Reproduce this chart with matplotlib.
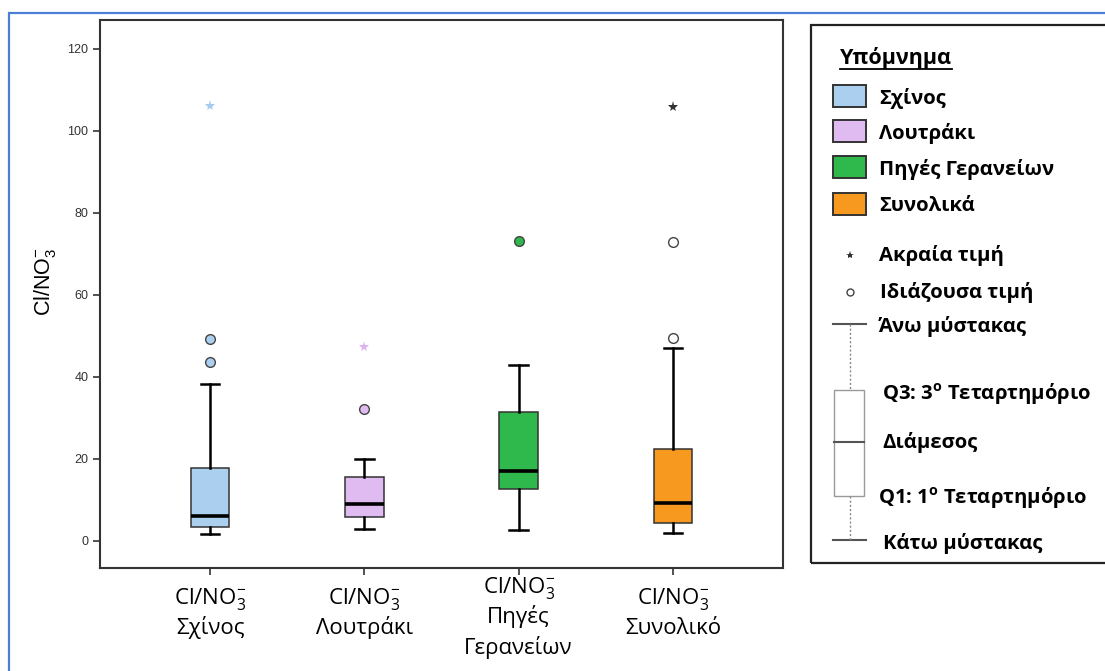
import matplotlib
matplotlib.use("Agg")
import matplotlib.pyplot as plt
from matplotlib.patches import Rectangle
from matplotlib.lines import Line2D
from matplotlib.transforms import blended_transform_factory

W, H = 1105, 671

# --- data -------------------------------------------------------------
groups = ["Σχίνος", "Λουτράκι", "Πηγές\nΓερανείων", "Συνολικό"]
legend_names = ["Σχίνος", "Λουτράκι", "Πηγές Γερανείων", "Συνολικά"]
q1 = [3.4, 5.9, 12.7, 4.4]
median = [6.1, 9.0, 17.1, 9.3]
q3 = [17.8, 15.6, 31.5, 22.4]
whisker_low = [1.7, 2.9, 2.7, 1.9]
whisker_high = [38.3, 20.0, 42.9, 47.1]
outliers = [[43.7, 49.3], [32.2], [73.2], [49.5, 72.9]]
extremes = [[106.1], [47.3], [], [105.9]]
y_ticks = [0, 20, 40, 60, 80, 100, 120]

box_colors = ["#abd0ef", "#dfbbf2", "#2fb84c", "#f7991f"]
outlier_faces = ["#abd0ef", "#dfbbf2", "#2fb84c", "#ffffff"]
extreme_colors = ["#a6cbee", "#dcb4f2", "#2fb84c", "#333333"]

SUB = r"$_{\mathregular{3}}^{\mathregular{-}}$"
FONT_TXT = "Open Sans"
LEG_FS = 14.6


def fx(x):
    return x / W


def fy(y):
    return 1 - y / H


fig = plt.figure(figsize=(W / 100, H / 100), dpi=100)
fig.patch.set_facecolor("white")

# outer frame
fig.add_artist(Rectangle((fx(8.5), fy(700)), fx(1200), fy(12.5) - fy(700),
                         transform=fig.transFigure, fill=False,
                         edgecolor="#4a7fd6", lw=1.6))

ax = fig.add_axes([fx(100), fy(568), fx(683), fy(20) - fy(568)])
positions = list(range(1, len(groups) + 1))

stats = []
for i in range(len(groups)):
    stats.append(dict(med=median[i], q1=q1[i], q3=q3[i],
                      whislo=whisker_low[i], whishi=whisker_high[i], fliers=[]))

bp = ax.bxp(stats, positions=positions, widths=0.25, patch_artist=True,
            showfliers=False,
            boxprops=dict(edgecolor="#333333", linewidth=1.1),
            medianprops=dict(color="black", linewidth=2.6),
            whiskerprops=dict(color="black", linewidth=1.8),
            capprops=dict(color="black", linewidth=1.8),
            capwidths=0.12)
for patch, c in zip(bp["boxes"], box_colors):
    patch.set_facecolor(c)

for i, pos in enumerate(positions):
    if outliers[i]:
        ax.plot([pos] * len(outliers[i]), outliers[i], "o", ms=7,
                mfc=outlier_faces[i], mec="#444444", mew=1.0, zorder=4)
    if extremes[i]:
        ax.plot([pos] * len(extremes[i]), extremes[i], "*", ms=8,
                color=extreme_colors[i], mew=0, zorder=4)

ax.set_xlim(0.286, 4.714)
ax.set_ylim(-6.6, 127)
ax.set_yticks(y_ticks)
ax.set_yticklabels([str(v) for v in y_ticks], fontfamily="Liberation Sans",
                   fontsize=9, color="#333333")
ax.set_xticks(positions)
ax.set_xticklabels([])
ax.tick_params(axis="both", direction="out", length=5, width=1.2, color="#333333")
for s in ax.spines.values():
    s.set_color("#333333")
    s.set_linewidth(1.5)

# category labels under the axis
tr = blended_transform_factory(ax.transData, fig.transFigure)
for pos, name in zip(positions, groups):
    lines = ["Cl/NO" + SUB] + name.split("\n")
    if len(lines) == 2:
        ys = [604, 634]
    else:
        ys = [593, 623, 654]
    for ln, yy in zip(lines, ys):
        ax.text(pos, fy(yy), ln, transform=tr, ha="center", va="baseline",
                fontfamily=FONT_TXT, fontsize=16, color="black")

fig.text(fx(45), fy(282), "Cl/NO" + SUB, rotation=90, ha="center", va="center",
         fontfamily="Liberation Sans", fontsize=15.5, color="black")

# --- legend panel -----------------------------------------------------
fig.add_artist(Rectangle((fx(811), fy(563)), fx(400), fy(25) - fy(563),
                         transform=fig.transFigure, fill=False,
                         edgecolor="#222222", lw=1.6, zorder=1))

title = fig.text(fx(840), fy(64), "Υπόμνημα", ha="left", va="baseline",
                 fontfamily=FONT_TXT, fontweight="bold", fontsize=15.5)
fig.canvas.draw()
bb = title.get_window_extent(fig.canvas.get_renderer())
fig.add_artist(Line2D([bb.x0 / W, bb.x1 / W], [fy(69), fy(69)],
                      transform=fig.transFigure, color="black", lw=1.3))

sw_y = [96, 131, 167, 204]
for y, c, name in zip(sw_y, box_colors, legend_names):
    fig.add_artist(Rectangle((fx(833), fy(y + 11)), fx(33), fy(y - 11) - fy(y + 11),
                             transform=fig.transFigure, facecolor=c,
                             edgecolor="#333333", lw=1.4))
    fig.text(fx(879), fy(y), name, ha="left", va="center_baseline",
             fontfamily=FONT_TXT, fontweight="bold", fontsize=LEG_FS)

fig.add_artist(Line2D([fx(850)], [fy(255)], marker="*", ms=6, color="#333333",
                      mew=0, transform=fig.transFigure))
fig.text(fx(879), fy(253), "Ακραία τιμή", ha="left", va="center_baseline",
         fontfamily=FONT_TXT, fontweight="bold", fontsize=LEG_FS)
fig.add_artist(Line2D([fx(850)], [fy(292)], marker="o", ms=5, mfc="white",
                      mec="#444444", mew=1.0, transform=fig.transFigure))
fig.text(fx(880), fy(290), "Ιδιάζουσα τιμή", ha="left", va="center_baseline",
         fontfamily=FONT_TXT, fontweight="bold", fontsize=LEG_FS)

# schematic box plot
g = "#555555"
fig.add_artist(Line2D([fx(833), fx(866)], [fy(324), fy(324)], color=g, lw=1.5,
                      transform=fig.transFigure))
fig.add_artist(Line2D([fx(833), fx(866)], [fy(540), fy(540)], color=g, lw=1.5,
                      transform=fig.transFigure))
fig.add_artist(Line2D([fx(850), fx(850)], [fy(324), fy(390)], color="#888888",
                      lw=1.0, ls=(0, (1.5, 1.5)), transform=fig.transFigure))
fig.add_artist(Line2D([fx(850), fx(850)], [fy(496), fy(540)], color="#888888",
                      lw=1.0, ls=(0, (1.5, 1.5)), transform=fig.transFigure))
fig.add_artist(Rectangle((fx(834), fy(496)), fx(30), fy(390) - fy(496),
                         transform=fig.transFigure, facecolor="white",
                         edgecolor="#999999", lw=1.0))
fig.add_artist(Line2D([fx(834), fx(864)], [fy(442), fy(442)], color=g, lw=1.5,
                      transform=fig.transFigure))

fig.text(fx(879), fy(324), "Άνω μύστακας", ha="left", va="center_baseline",
         fontfamily=FONT_TXT, fontweight="bold", fontsize=LEG_FS)
fig.text(fx(882), fy(390), r"Q3: 3$^{\mathregular{o}}$ Τεταρτημόριο", ha="left",
         va="center_baseline", fontfamily=FONT_TXT, fontweight="bold", fontsize=LEG_FS)
fig.text(fx(882), fy(440), "Διάμεσος", ha="left", va="center_baseline",
         fontfamily=FONT_TXT, fontweight="bold", fontsize=LEG_FS)
fig.text(fx(878), fy(494), r"Q1: 1$^{\mathregular{o}}$ Τεταρτημόριο", ha="left",
         va="center_baseline", fontfamily=FONT_TXT, fontweight="bold", fontsize=LEG_FS)
fig.text(fx(883), fy(541), "Κάτω μύστακας", ha="left", va="center_baseline",
         fontfamily=FONT_TXT, fontweight="bold", fontsize=LEG_FS)

fig.savefig("out.png", dpi=100)
